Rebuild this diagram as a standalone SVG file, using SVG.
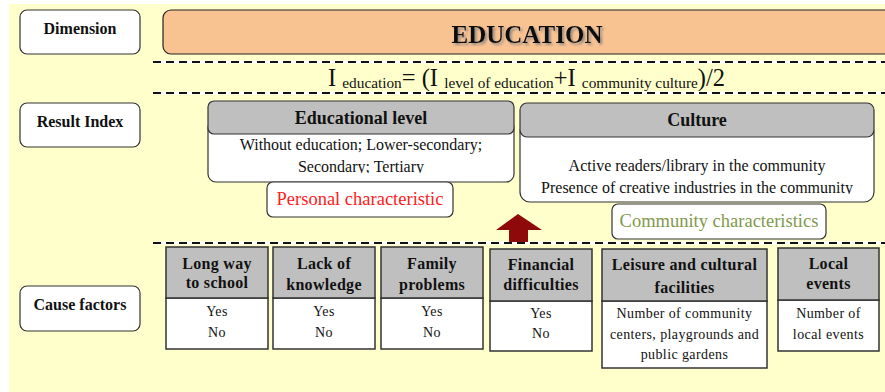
<svg xmlns="http://www.w3.org/2000/svg" width="885" height="392" viewBox="0 0 885 392">
<defs>
<style>
.t{font-family:"Liberation Serif","Times New Roman",serif;fill:#111;}
.lab{font-size:16px;font-weight:bold;text-anchor:middle;}
.hd{font-size:16px;font-weight:bold;text-anchor:middle;letter-spacing:0.3px;}
.bd{font-size:14px;text-anchor:middle;letter-spacing:0.4px;}
.box{fill:#fff;stroke:#333;stroke-width:1.2;}
.gray{fill:#BFBFBF;stroke:#333;stroke-width:1.2;}
.cf{stroke:#333;stroke-width:1.5;}
.dashw{stroke:#fff;stroke-width:3;}
.dash{stroke:#111;stroke-width:2;stroke-dasharray:8 5;}
</style>
<filter id="shadow" x="-10%" y="-30%" width="130%" height="160%">
<feDropShadow dx="2" dy="2" stdDeviation="0.8" flood-color="#808080" flood-opacity="0.8"/>
</filter>
<clipPath id="clipEdu"><rect x="200" y="100" width="320" height="73"/></clipPath>
<clipPath id="clipCul"><rect x="515" y="100" width="365" height="94"/></clipPath>
</defs>
<rect x="9" y="4" width="876" height="388" fill="#FFFFCC"/>

<g id="label-dimension">
<rect class="box" x="20" y="10" width="120" height="44" rx="7"/>
<text class="t lab" x="80" y="34">Dimension</text>
</g>
<g id="label-result-index">
<rect class="box" x="20" y="103" width="120" height="44" rx="7"/>
<text class="t lab" x="80" y="127">Result Index</text>
</g>
<g id="label-cause-factors">
<rect class="box" x="20" y="286" width="120" height="45" rx="7"/>
<text class="t lab" x="80" y="310">Cause factors</text>
</g>

<g id="education">
<rect x="163" y="10" width="740" height="44" rx="8" fill="#F9C291" stroke="#222" stroke-width="1.2"/>
<text class="t" x="527" y="43" font-size="25" font-weight="bold" text-anchor="middle" filter="url(#shadow)">EDUCATION</text>
</g>

<g id="separators">
<line class="dashw" x1="153" y1="62" x2="885" y2="62"/>
<line class="dash" x1="153" y1="62" x2="885" y2="62"/>
<line class="dashw" x1="153" y1="93" x2="885" y2="93"/>
<line class="dash" x1="153" y1="93" x2="885" y2="93"/>
<line class="dashw" x1="153" y1="243" x2="885" y2="243"/>
<line class="dash" x1="153" y1="243" x2="885" y2="243"/>
</g>

<g id="formula">
<text class="t" x="328" y="86" font-size="24.5">I <tspan font-size="15.3" dy="2">education</tspan><tspan dy="-2">= (I </tspan><tspan font-size="15.3" dy="2">level of education</tspan><tspan dy="-2">+I </tspan><tspan font-size="15.3" dy="2">community culture</tspan><tspan dy="-2">)/2</tspan></text>
</g>

<g id="educational-level">
<rect class="box" x="208" y="120" width="306" height="62" rx="8"/>
<rect class="gray" x="208" y="101" width="306" height="33" rx="6"/>
<text class="t" x="361" y="124" font-size="18" font-weight="bold" text-anchor="middle">Educational level</text>
<g clip-path="url(#clipEdu)">
<text class="t" x="361" y="150" font-size="16" text-anchor="middle">Without education; Lower-secondary;</text>
<text class="t" x="361" y="172" font-size="16" text-anchor="middle">Secondary; Tertiary</text>
</g>
</g>

<g id="culture">
<rect class="box" x="520" y="122" width="354" height="80" rx="10"/>
<rect class="gray" x="520" y="103" width="354" height="34" rx="7"/>
<text class="t" x="697" y="126" font-size="18" font-weight="bold" text-anchor="middle">Culture</text>
<g clip-path="url(#clipCul)">
<text class="t" x="697" y="171" font-size="16" text-anchor="middle">Active readers/library in the community</text>
<text class="t" x="697" y="193" font-size="16" text-anchor="middle">Presence of creative industries in the community</text>
</g>
</g>

<g id="personal-characteristic">
<rect class="box" x="267" y="182" width="186" height="35" rx="6"/>
<text class="t" x="360" y="205" font-size="18.5" text-anchor="middle" style="fill:#FF1A1A">Personal characteristic</text>
</g>

<g id="community-characteristics">
<rect class="box" x="612" y="204" width="214" height="35" rx="6"/>
<text class="t" x="719" y="227" font-size="18.5" text-anchor="middle" style="fill:#7F9A4A">Community characteristics</text>
</g>

<g id="connectors">
<polygon points="518,214 542,230 528,230 528,242 509,242 509,230 496,230" fill="#8E0A0A"/>
</g>

<g id="cf-long-way">
<rect class="cf" x="166" y="298" width="102" height="51" fill="#fff"/>
<rect class="cf" x="166" y="247" width="102" height="51" fill="#BFBFBF"/>
<text class="t hd" x="217" y="269">Long way</text>
<text class="t hd" x="217" y="288">to school</text>
<text class="t bd" x="217" y="316">Yes</text>
<text class="t bd" x="217" y="337">No</text>
</g>
<g id="cf-lack-knowledge">
<rect class="cf" x="273" y="298" width="102" height="51" fill="#fff"/>
<rect class="cf" x="273" y="247" width="102" height="51" fill="#BFBFBF"/>
<text class="t hd" x="324" y="269">Lack of</text>
<text class="t hd" x="324" y="290">knowledge</text>
<text class="t bd" x="324" y="316">Yes</text>
<text class="t bd" x="324" y="337">No</text>
</g>
<g id="cf-family">
<rect class="cf" x="381" y="298" width="102" height="51" fill="#fff"/>
<rect class="cf" x="381" y="247" width="102" height="51" fill="#BFBFBF"/>
<text class="t hd" x="432" y="269">Family</text>
<text class="t hd" x="432" y="290">problems</text>
<text class="t bd" x="432" y="316">Yes</text>
<text class="t bd" x="432" y="337">No</text>
</g>
<g id="cf-financial">
<rect class="cf" x="490" y="301" width="102" height="50" fill="#fff"/>
<rect class="cf" x="490" y="249" width="102" height="52" fill="#BFBFBF"/>
<text class="t hd" x="541" y="270">Financial</text>
<text class="t hd" x="541" y="290">difficulties</text>
<text class="t bd" x="541" y="318">Yes</text>
<text class="t bd" x="541" y="338">No</text>
</g>
<g id="cf-leisure">
<rect class="cf" x="602" y="301" width="165" height="67" fill="#fff"/>
<rect class="cf" x="602" y="249" width="165" height="52" fill="#BFBFBF"/>
<text class="t hd" x="684.5" y="270">Leisure and cultural</text>
<text class="t hd" x="684.5" y="293">facilities</text>
<text class="t bd" x="684.5" y="318">Number of community</text>
<text class="t bd" x="684.5" y="339">centers, playgrounds and</text>
<text class="t bd" x="684.5" y="359">public gardens</text>
</g>
<g id="cf-local-events">
<rect class="cf" x="778" y="300" width="101" height="51" fill="#fff"/>
<rect class="cf" x="778" y="248" width="101" height="52" fill="#BFBFBF"/>
<text class="t hd" x="828.5" y="269">Local</text>
<text class="t hd" x="828.5" y="289">events</text>
<text class="t bd" x="828.5" y="318">Number of</text>
<text class="t bd" x="828.5" y="339">local events</text>
</g>
</svg>
